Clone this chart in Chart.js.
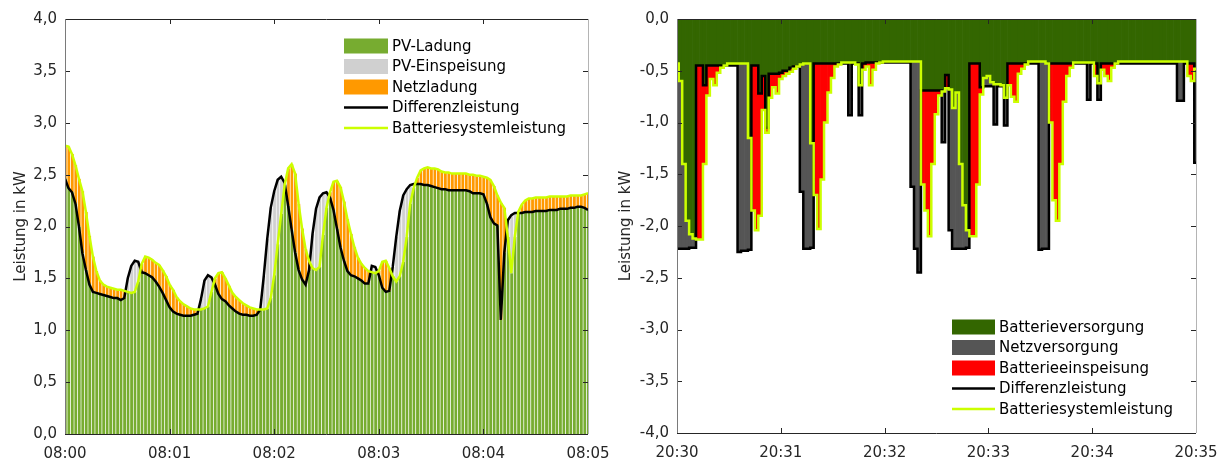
<!DOCTYPE html>
<html>
<head>
<meta charset="utf-8">
<script src="https://cdn.jsdelivr.net/npm/chart.js@4.4.0/dist/chart.umd.min.js"></script>
<style>
  html, body { margin: 0; padding: 0; background: #fff; }
  .panel { position: absolute; top: 0; width: 611px; height: 460px; }
</style>
</head>
<body>
<div class="panel" style="left:0"><canvas id="chart-morning"></canvas></div>
<div class="panel" style="left:611px"><canvas id="chart-evening"></canvas></div>
<script>
// one sample every 2 s over a 5 minute window (seconds from window start)
const sampleStep = 2;

const morningTimeLabels = ['08:00', '08:01', '08:02', '08:03', '08:04', '08:05'];
const eveningTimeLabels = ['20:30', '20:31', '20:32', '20:33', '20:34', '20:35'];
const morningValueLabels = ['0,0', '0,5', '1,0', '1,5', '2,0', '2,5', '3,0', '3,5', '4,0'];
const eveningValueLabels = ['-4,0', '-3,5', '-3,0', '-2,5', '-2,0', '-1,5', '-1,0', '-0,5', '0,0'];

const morningLegend = ['PV-Ladung', 'PV-Einspeisung', 'Netzladung', 'Differenzleistung', 'Batteriesystemleistung'];
const eveningLegend = ['Batterieversorgung', 'Netzversorgung', 'Batterieeinspeisung', 'Differenzleistung', 'Batteriesystemleistung'];

// kW, 08:00:00 .. 08:05:00
const morningDiff = [
  2.46, 2.37, 2.33, 2.22, 2.00, 1.74, 1.58, 1.44, 1.37, 1.36,
  1.35, 1.34, 1.33, 1.32, 1.31, 1.31, 1.29, 1.31, 1.50, 1.62,
  1.67, 1.66, 1.56, 1.55, 1.53, 1.51, 1.47, 1.42, 1.36, 1.29,
  1.22, 1.18, 1.16, 1.15, 1.14, 1.14, 1.14, 1.15, 1.16, 1.30,
  1.48, 1.53, 1.51, 1.44, 1.35, 1.30, 1.28, 1.24, 1.21, 1.18,
  1.16, 1.15, 1.15, 1.14, 1.14, 1.15, 1.20, 1.52, 1.88, 2.18,
  2.34, 2.45, 2.48, 2.42, 2.20, 1.97, 1.75, 1.58, 1.49, 1.44,
  1.58, 1.93, 2.17, 2.28, 2.32, 2.33, 2.28, 2.16, 1.98, 1.80,
  1.67, 1.57, 1.53, 1.52, 1.50, 1.48, 1.45, 1.45, 1.62, 1.61,
  1.53, 1.41, 1.37, 1.38, 1.61, 1.90, 2.15, 2.30, 2.36, 2.40,
  2.41, 2.41, 2.41, 2.40, 2.40, 2.39, 2.38, 2.37, 2.36, 2.36,
  2.35, 2.35, 2.35, 2.35, 2.35, 2.35, 2.34, 2.32, 2.32, 2.32,
  2.31, 2.22, 2.09, 2.03, 2.01, 1.10, 1.75, 2.06, 2.11, 2.13,
  2.13, 2.13, 2.14, 2.14, 2.14, 2.15, 2.15, 2.15, 2.15, 2.16,
  2.16, 2.16, 2.17, 2.17, 2.17, 2.18, 2.18, 2.19, 2.19, 2.18,
  2.16
];
const morningBattery = [
  2.78, 2.77, 2.70, 2.59, 2.46, 2.34, 2.14, 1.91, 1.71, 1.57,
  1.48, 1.44, 1.42, 1.41, 1.40, 1.39, 1.39, 1.38, 1.37, 1.36,
  1.37, 1.47, 1.64, 1.71, 1.70, 1.68, 1.65, 1.63, 1.58, 1.52,
  1.44, 1.39, 1.32, 1.28, 1.25, 1.23, 1.21, 1.20, 1.20, 1.20,
  1.21, 1.23, 1.37, 1.50, 1.55, 1.56, 1.50, 1.43, 1.36, 1.32,
  1.29, 1.26, 1.24, 1.22, 1.21, 1.20, 1.20, 1.20, 1.21, 1.31,
  1.53, 1.83, 2.12, 2.40, 2.56, 2.60, 2.51, 2.22, 1.98, 1.78,
  1.67, 1.60, 1.58, 1.61, 1.92, 2.18, 2.33, 2.43, 2.44, 2.38,
  2.24, 2.07, 1.93, 1.80, 1.70, 1.64, 1.60, 1.57, 1.56, 1.55,
  1.57, 1.66, 1.67, 1.60, 1.52, 1.47, 1.52, 1.66, 1.90, 2.22,
  2.37, 2.47, 2.54, 2.56, 2.57, 2.56, 2.56, 2.55, 2.53, 2.52,
  2.52, 2.51, 2.51, 2.51, 2.51, 2.51, 2.50, 2.50, 2.49, 2.49,
  2.48, 2.47, 2.45, 2.39, 2.30, 2.23, 2.18, 1.90, 1.55, 1.90,
  2.14, 2.21, 2.25, 2.27, 2.27, 2.28, 2.28, 2.28, 2.28, 2.29,
  2.29, 2.29, 2.29, 2.29, 2.29, 2.30, 2.30, 2.30, 2.30, 2.31,
  2.32
];

// kW, 20:30:00 .. 20:35:00
const eveningDiff = [
  -2.22, -2.22, -2.22, -2.22, -2.21, -2.21, -0.45, -0.45, -0.64, -0.45,
  -0.45, -0.45, -0.45, -0.45, -0.45, -0.45, -0.45, -0.45, -2.25, -2.24,
  -2.24, -2.23, -0.45, -0.45, -0.72, -0.55, -1.05, -0.53, -0.53, -0.53,
  -0.52, -0.50, -0.50, -0.47, -0.46, -0.46, -1.67, -2.22, -2.22, -2.21,
  -0.43, -0.43, -0.43, -0.43, -0.43, -0.43, -0.43, -0.43, -0.43, -0.43,
  -0.93, -0.43, -0.43, -0.93, -0.43, -0.42, -0.42, -0.42, -0.42, -0.42,
  -0.42, -0.42, -0.42, -0.42, -0.42, -0.42, -0.42, -0.42, -1.62, -2.22,
  -2.45, -0.69, -0.69, -0.69, -0.69, -0.69, -0.69, -1.19, -0.54, -2.04,
  -2.22, -2.22, -2.22, -2.22, -2.21, -0.43, -0.43, -0.43, -0.66, -0.65,
  -0.65, -0.65, -1.02, -0.65, -0.65, -1.03, -0.43, -0.43, -0.43, -0.43,
  -0.43, -0.43, -0.43, -0.43, -0.43, -2.23, -2.22, -2.22, -0.43, -0.43,
  -0.43, -0.43, -0.43, -0.43, -0.43, -0.43, -0.43, -0.43, -0.43, -0.78,
  -0.43, -0.43, -0.78, -0.43, -0.43, -0.43, -0.43, -0.43, -0.43, -0.43,
  -0.43, -0.43, -0.43, -0.43, -0.43, -0.43, -0.43, -0.43, -0.43, -0.43,
  -0.43, -0.43, -0.43, -0.43, -0.43, -0.79, -0.79, -0.43, -0.43, -0.43,
  -1.39
];
const eveningBattery = [
  -0.43, -0.60, -1.40, -1.95, -2.08, -2.12, -2.13, -2.13, -1.40, -0.74,
  -0.58, -0.64, -0.52, -0.47, -0.45, -0.43, -0.43, -0.43, -0.43, -0.43,
  -0.43, -1.15, -1.85, -2.04, -1.90, -0.88, -1.10, -0.76, -0.66, -0.72,
  -0.58, -0.55, -0.53, -0.51, -0.48, -0.46, -0.44, -0.43, -0.43, -1.20,
  -1.70, -2.03, -1.55, -1.00, -0.71, -0.57, -0.46, -0.44, -0.42, -0.42,
  -0.42, -0.42, -0.44, -0.64, -0.49, -0.46, -0.64, -0.49, -0.43, -0.42,
  -0.41, -0.41, -0.41, -0.41, -0.41, -0.41, -0.41, -0.41, -0.41, -0.41,
  -0.41, -1.60, -1.85, -2.10, -1.40, -0.92, -0.74, -0.70, -0.67, -0.68,
  -0.86, -0.71, -1.40, -1.80, -2.04, -2.10, -2.10, -1.60, -0.73, -0.57,
  -0.55, -0.61, -0.63, -0.63, -0.64, -0.76, -0.64, -0.75, -0.80, -0.53,
  -0.48, -0.44, -0.41, -0.41, -0.41, -0.41, -0.41, -0.43, -1.00, -1.75,
  -1.95, -1.40, -0.80, -0.55, -0.47, -0.42, -0.42, -0.42, -0.42, -0.42,
  -0.42, -0.55, -0.62, -0.49, -0.55, -0.60, -0.47, -0.43, -0.41, -0.41,
  -0.41, -0.41, -0.41, -0.41, -0.41, -0.41, -0.41, -0.41, -0.41, -0.41,
  -0.41, -0.41, -0.41, -0.41, -0.41, -0.41, -0.41, -0.41, -0.55, -0.60,
  -0.48
];

const FONT = 'DejaVu Sans';
const TEXT = '#262626';

// frame with inward ticks on all four sides, like the original plot box
const boxPlugin = {
  id: 'box',
  afterDatasetsDraw(chart) {
    const { ctx, chartArea: a, scales: { x, y } } = chart;
    const tick = 5;
    ctx.save();
    ctx.lineWidth = 1;
    ctx.strokeStyle = TEXT;
    ctx.beginPath();
    x.ticks.forEach(t => {
      const px = Math.round(x.getPixelForValue(t.value)) + 0.5;
      ctx.moveTo(px, a.bottom); ctx.lineTo(px, a.bottom - tick);
      ctx.moveTo(px, a.top); ctx.lineTo(px, a.top + tick);
    });
    y.ticks.forEach(t => {
      const py = Math.round(y.getPixelForValue(t.value)) + 0.5;
      ctx.moveTo(a.left, py); ctx.lineTo(a.left + tick, py);
      ctx.moveTo(a.right, py); ctx.lineTo(a.right - tick, py);
    });
    ctx.stroke();
    ctx.beginPath();
    ctx.moveTo(a.left, Math.round(a.top) + 0.5); ctx.lineTo(a.right, Math.round(a.top) + 0.5);
    ctx.moveTo(a.left, Math.round(a.bottom) + 0.5); ctx.lineTo(a.right, Math.round(a.bottom) + 0.5);
    ctx.stroke();
    ctx.strokeStyle = '#7a7a7a';
    ctx.beginPath();
    ctx.moveTo(Math.round(a.left) + 0.5, a.top); ctx.lineTo(Math.round(a.left) + 0.5, a.bottom);
    ctx.stroke();
    ctx.strokeStyle = '#b4b4b4';
    ctx.beginPath();
    ctx.moveTo(Math.round(a.right) + 0.5, a.top); ctx.lineTo(Math.round(a.right) + 0.5, a.bottom);
    ctx.stroke();
    ctx.restore();
  }
};

// legend drawn inside the plot area
const insideLegend = {
  id: 'insideLegend',
  afterDraw(chart, args, opts) {
    const { ctx } = chart;
    ctx.save();
    ctx.font = '15px "' + FONT + '"';
    ctx.textBaseline = 'middle';
    ctx.textAlign = 'left';
    chart.data.datasets.forEach((ds, i) => {
      const cy = opts.top + i * opts.gap;
      if (ds.type === 'line') {
        ctx.strokeStyle = ds.borderColor;
        ctx.lineWidth = ds.borderWidth;
        ctx.beginPath();
        ctx.moveTo(opts.left, cy);
        ctx.lineTo(opts.left + opts.swatch, cy);
        ctx.stroke();
      } else {
        ctx.fillStyle = ds.backgroundColor;
        ctx.fillRect(opts.left, cy - 7.5, opts.swatch, 15);
      }
      ctx.fillStyle = '#000';
      ctx.fillText(ds.label, opts.left + opts.swatch + 4, cy + 1);
    });
    ctx.restore();
  }
};

function makeChart(id, cfg) {
  const times = cfg.diff.map((_, i) => i * sampleStep);
  const sign = cfg.min < 0 ? -1 : 1;
  // shared part, part only covered by the difference, part only covered by the battery
  const shared = [], diffOnly = [], battOnly = [];
  cfg.diff.forEach((d, i) => {
    const b = cfg.batt[i];
    const x = times[i];
    shared.push({ x, y: sign > 0 ? Math.min(d, b) : Math.max(d, b) });
    diffOnly.push({ x, y: sign * Math.max(sign * (d - b), 0) });
    battOnly.push({ x, y: sign * Math.max(sign * (b - d), 0) });
  });
  const bar = (label, data, color) => ({
    type: 'bar', label, data, backgroundColor: color,
    borderColor: cfg.stripe, borderWidth: cfg.stripe ? { left: 1, right: 0, top: 0, bottom: 0 } : 0,
    borderSkipped: false,
    barPercentage: 1, categoryPercentage: 1,
    stack: 'area', order: 3
  });
  const line = (label, values, color, width, order) => ({
    type: 'line', label, data: values.map((v, i) => ({ x: times[i], y: v })),
    borderColor: color, borderWidth: width, pointRadius: 0,
    stepped: cfg.stepped, tension: 0, fill: false, stack: label, order
  });

  return new Chart(document.getElementById(id), {
    type: 'bar',
    data: {
      datasets: [
        bar(cfg.legend[0], shared, cfg.colors[0]),
        bar(cfg.legend[1], diffOnly, cfg.colors[1]),
        bar(cfg.legend[2], battOnly, cfg.colors[2]),
        line(cfg.legend[3], cfg.diff, '#000000', 2.5, 2),
        line(cfg.legend[4], cfg.batt, '#ccff00', 2.5, 1)
      ]
    },
    options: {
      responsive: true,
      maintainAspectRatio: false,
      animation: false,
      layout: { padding: { top: 19, right: cfg.padRight, bottom: 0, left: 0 } },
      scales: {
        x: {
          type: 'linear', min: 0, max: 300, offset: false,
          grid: { display: false, drawTicks: false }, border: { display: false },
          ticks: {
            stepSize: 60, autoSkip: false, maxRotation: 0, padding: 11, color: TEXT,
            font: { family: FONT, size: 15 },
            callback: v => cfg.timeLabels[Math.round(v / 60)]
          },
          afterFit: s => { s.height = cfg.axisHeight; s.paddingLeft = 0; s.paddingRight = 0; }
        },
        y: {
          stacked: true, min: cfg.min, max: cfg.max,
          grid: { display: false, drawTicks: false }, border: { display: false },
          ticks: {
            stepSize: 0.5, padding: 8, color: TEXT,
            font: { family: FONT, size: 15 },
            callback: v => cfg.valueLabels[Math.round((v - cfg.min) / 0.5)]
          },
          title: {
            display: true, text: 'Leistung in kW', color: TEXT,
            font: { family: FONT, size: 15 }, padding: { top: cfg.titlePad, bottom: 0 }
          },
          afterFit: s => { s.width = cfg.axisWidth; s.paddingTop = 0; s.paddingBottom = 0; }
        }
      },
      plugins: {
        legend: { display: false },
        tooltip: { enabled: false },
        insideLegend: cfg.legendPos
      }
    },
    plugins: [boxPlugin, insideLegend]
  });
}

makeChart('chart-morning', {
  diff: morningDiff, batt: morningBattery, min: 0, max: 4,
  legend: morningLegend, colors: ['#77ac30', '#d0d0d0', '#ff9900'],
  stripe: 'rgba(255,255,255,0.13)', stepped: false,
  timeLabels: morningTimeLabels, valueLabels: morningValueLabels,
  axisWidth: 65, axisHeight: 26, padRight: 23, titlePad: 12,
  legendPos: { left: 344, top: 46, gap: 20.5, swatch: 44 }
});

makeChart('chart-evening', {
  diff: eveningDiff, batt: eveningBattery, min: -4, max: 0,
  legend: eveningLegend, colors: ['#336600', '#555555', '#ff0000'],
  stripe: null, stepped: 'middle',
  timeLabels: eveningTimeLabels, valueLabels: eveningValueLabels,
  axisWidth: 66, axisHeight: 27, padRight: 26, titlePad: 6,
  legendPos: { left: 341, top: 327, gap: 20.5, swatch: 43 }
});
</script>
</body>
</html>
